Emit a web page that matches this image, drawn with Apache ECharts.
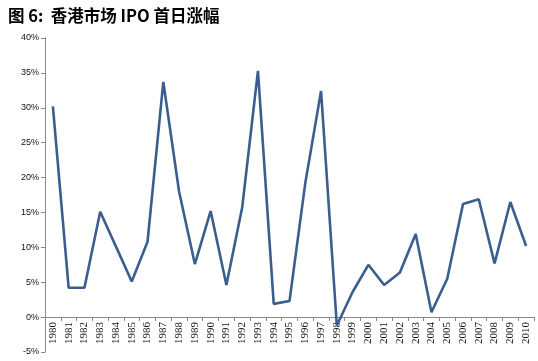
<!DOCTYPE html>
<html><head><meta charset="utf-8">
<script src="https://cdn.jsdelivr.net/npm/echarts@6/dist/echarts.min.js"></script>
<style>html,body{margin:0;padding:0;background:#fff}#c{width:538px;height:361px}</style>
</head><body><div id="c"></div>
<script>
var years = ['1980','1981','1982','1983','1984','1985','1986','1987','1988','1989','1990','1991','1992','1993','1994','1995','1996','1997','1998','1999','2000','2001','2002','2003','2004','2005','2006','2007','2008','2009','2010'];
var firstDayReturn = [30.2,4.2,4.2,15.1,10.1,5.1,10.8,33.7,18.0,7.6,15.2,4.6,15.7,35.3,1.9,2.3,19.2,32.4,-1.2,3.6,7.5,4.6,6.4,11.9,0.7,5.5,16.2,16.9,7.7,16.5,10.2];
var yTicks = [-5,0,5,10,15,20,25,30,35,40];
var chart = echarts.init(document.getElementById('c'));
chart.setOption({
  animation:false,
  title:{text:'图 6:  香港市场 IPO 首日涨幅',left:3,top:2,textStyle:{fontFamily:'"Noto Sans CJK SC", serif',fontWeight:'bold',fontSize:16.5,color:'#000'}},
  grid:{left:45,right:4,top:38,bottom:9,containLabel:false,outerBoundsMode:'none'},
  xAxis:{type:'category',data:years,boundaryGap:true,position:'bottom',offset:-35,
    axisLine:{onZero:false,lineStyle:{color:'#888',width:1}},
    axisTick:{show:true,length:4,lineStyle:{color:'#888'}},
    axisLabel:{rotate:90,fontFamily:'"Liberation Serif", serif',fontSize:11,color:'#111',margin:5}},
  yAxis:{type:'value',min:-5,max:40,interval:5,
    axisLine:{show:true,lineStyle:{color:'#888'}},
    axisTick:{show:true,length:4,lineStyle:{color:'#888'}},
    splitLine:{show:false},
    axisLabel:{formatter:function(v){return v+'%';},fontFamily:'"Liberation Sans", sans-serif',fontSize:9,color:'#111',margin:6}},
  series:[{type:'line',data:firstDayReturn,symbol:'none',lineStyle:{color:'#3A5E8E',width:2.6}}]
});
</script></body></html>
